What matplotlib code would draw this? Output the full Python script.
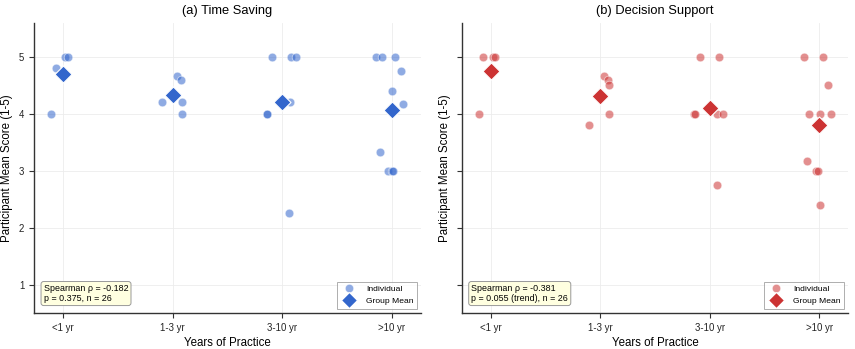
import matplotlib
matplotlib.use("Agg")
import matplotlib.pyplot as plt
from matplotlib.lines import Line2D
import numpy as np

plt.rcParams['font.family'] = ['Liberation Sans', 'DejaVu Sans']

categories = ["<1 yr", "1-3 yr", "3-10 yr", ">10 yr"]

# Time Saving: group index, score, jitter
ts_group = [0, 0, 0, 0,
            1, 1, 1, 1, 1,
            2, 2, 2, 2, 2, 2, 2,
            3, 3, 3, 3, 3, 3, 3, 3, 3, 3]
ts_score = [4.0, 4.8, 5.0, 5.0,
            4.2, 4.67, 4.6, 4.2, 4.0,
            4.0, 4.0, 5.0, 5.0, 5.0, 4.2, 2.25,
            5.0, 5.0, 5.0, 4.75, 4.4, 4.167, 3.333, 3.0, 3.0, 3.0]
ts_jitter = [-0.106, -0.061, 0.021, 0.045,
             -0.100, 0.036, 0.073, 0.082, 0.082,
             -0.142, -0.136, -0.091, 0.082, 0.121, 0.067, 0.064,
             -0.145, -0.091, 0.030, 0.085, 0.003, 0.103, -0.109, -0.033, -0.003, 0.012]

# Decision Support
ds_group = [0, 0, 0, 0,
            1, 1, 1, 1, 1,
            2, 2, 2, 2, 2, 2, 2,
            3, 3, 3, 3, 3, 3, 3, 3, 3, 3]
ds_score = [4.0, 5.0, 5.0, 5.0,
            3.8, 4.67, 4.6, 4.5, 4.0,
            4.0, 4.0, 5.0, 5.0, 4.0, 4.0, 2.75,
            5.0, 5.0, 4.5, 4.0, 4.0, 4.0, 3.167, 3.0, 3.0, 2.4]
ds_jitter = [-0.107, -0.067, 0.021, 0.040,
             -0.104, 0.034, 0.073, 0.082, 0.082,
             -0.140, -0.131, -0.085, 0.085, 0.070, 0.125, 0.064,
             -0.140, 0.034, 0.085, -0.095, 0.006, 0.110, -0.107, -0.030, -0.012, 0.006]

titles = ["(a) Time Saving", "(b) Decision Support"]
stat_texts = ["Spearman ρ = -0.182\np = 0.375, n = 26",
              "Spearman ρ = -0.381\np = 0.055 (trend), n = 26"]
point_colors = ["#3366cc", "#cc3333"]
mean_colors = ["#3366cc", "#cc3333"]

fig = plt.figure(figsize=(8.55, 3.49), dpi=100)
ax1 = fig.add_axes([0.0398, 0.103, 0.4526, 0.832])
ax2 = fig.add_axes([0.540, 0.103, 0.452, 0.832])

panels = [(ax1, ts_group, ts_score, ts_jitter), (ax2, ds_group, ds_score, ds_jitter)]
for i, (ax, g, s, j) in enumerate(panels):
    g = np.array(g); s = np.array(s); j = np.array(j)
    ax.scatter(g + j, s, s=38, color=point_colors[i], alpha=0.55,
               edgecolors='white', linewidths=0.6, zorder=3)
    means = [s[g == k].mean() for k in range(len(categories))]
    ax.scatter(range(len(categories)), means, marker='D', s=75,
               color=mean_colors[i], edgecolors='white', linewidths=0.8, zorder=4)
    ax.set_xlim(-0.265, 3.265)
    ax.set_ylim(0.5, 5.6)
    ax.set_xticks(range(len(categories)))
    ax.set_xticklabels(categories, fontsize=6.9)
    ax.set_yticks([1, 2, 3, 4, 5])
    ax.tick_params(axis='y', labelsize=6.9)
    if i == 1:
        ax.tick_params(axis='y', labelleft=False)
    ax.tick_params(length=3.5, width=0.8, colors='#333333', labelcolor='#222222')
    ax.grid(True, color='#ececec', linewidth=0.6, zorder=0)
    ax.set_axisbelow(True)
    for sp in ['top', 'right']:
        ax.spines[sp].set_visible(False)
    for sp in ['left', 'bottom']:
        ax.spines[sp].set_color('#333333')
        ax.spines[sp].set_linewidth(1.0)
    ax.set_title(titles[i], fontsize=9.3, pad=6)
    ax.set_xlabel("Years of Practice", fontsize=8.3, labelpad=3)
    ax.set_ylabel("Participant Mean Score (1-5)", fontsize=8.3, labelpad=4)
    ax.text(0.025, 0.035, stat_texts[i], transform=ax.transAxes, fontsize=6.4,
            va='bottom', ha='left', linespacing=1.1,
            bbox=dict(boxstyle='round,pad=0.3', facecolor='#ffffe0',
                      edgecolor='#999999', linewidth=0.7))
    handles = [
        Line2D([], [], marker='o', linestyle='none', markersize=6,
               color=point_colors[i], alpha=0.55, markeredgecolor='white',
               markeredgewidth=0.6, label='Individual'),
        Line2D([], [], marker='D', linestyle='none', markersize=8,
               color=mean_colors[i], markeredgecolor='white',
               markeredgewidth=0.8, label='Group Mean'),
    ]
    leg = ax.legend(handles=handles, loc='lower right', fontsize=6.1,
                    frameon=True, fancybox=False, edgecolor='#999999',
                    borderaxespad=0.5, handletextpad=1.0)
    leg.get_frame().set_linewidth(0.7)

fig.savefig("out.png", dpi=100)
